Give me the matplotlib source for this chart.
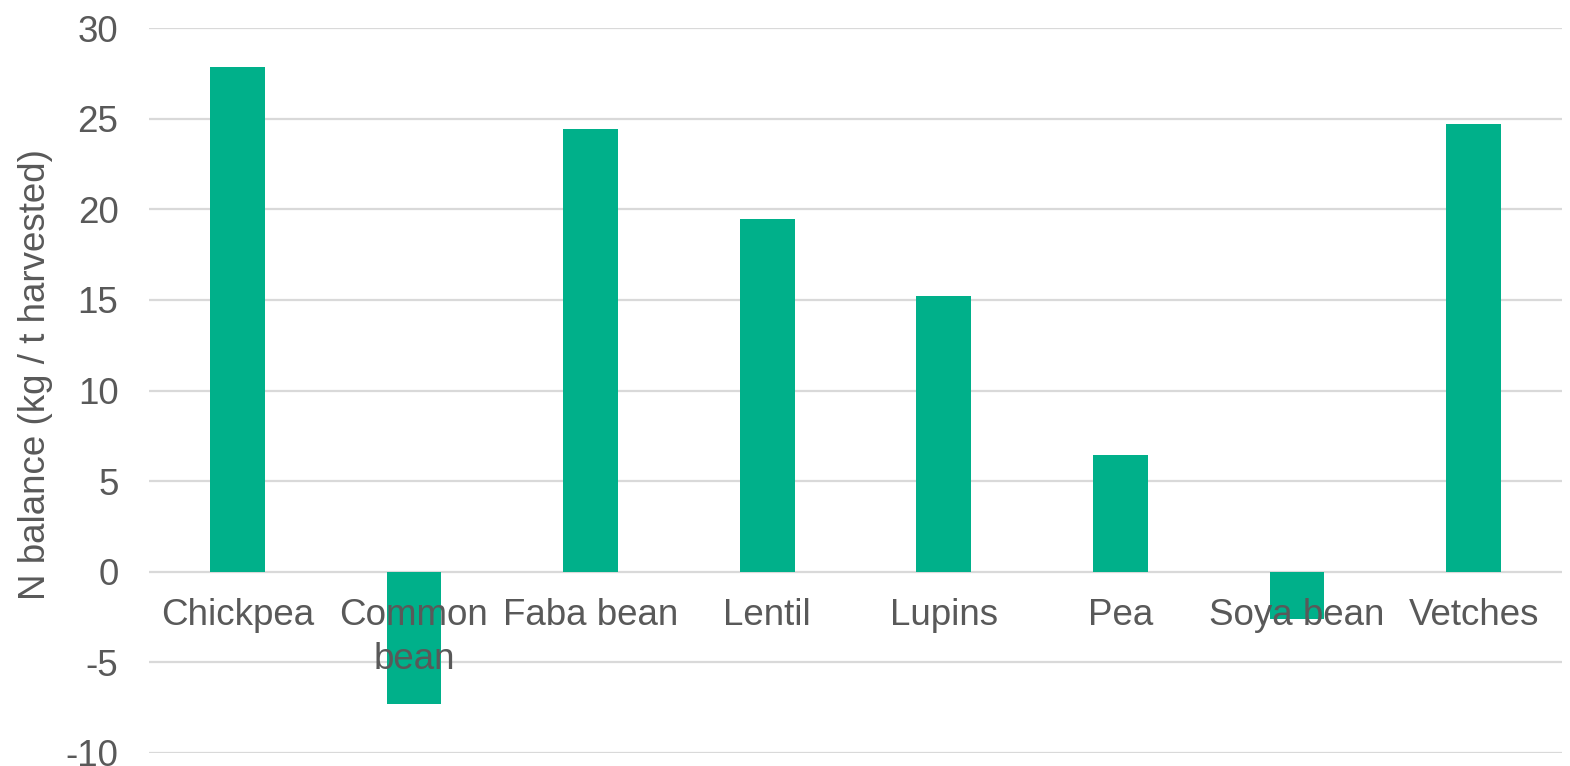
import matplotlib
matplotlib.use("Agg")
import matplotlib.pyplot as plt

plt.rcParams['font.family'] = ['Liberation Sans', 'DejaVu Sans']

crops = ["Chickpea", "Common\nbean", "Faba bean", "Lentil", "Lupins", "Pea", "Soya bean", "Vetches"]
n_balance = [27.85, -7.27, 24.45, 19.45, 15.2, 6.43, -2.6, 24.7]
y_ticks = [-10, -5, 0, 5, 10, 15, 20, 25, 30]

bar_color = "#00B08A"
text_color = "#595959"
grid_color = "#D9D9D9"

fig = plt.figure(figsize=(15.7, 7.66), dpi=100)
ax = fig.add_axes([0.0949, 0.0170, 0.9, 0.9464])

# horizontal gridlines sit behind the bars; tick labels stay on top
for v in y_ticks:
    ax.axhline(v, color=grid_color, linewidth=1.6, zorder=0.5)

x = range(len(crops))
ax.bar(x, n_balance, width=0.31, color=bar_color, zorder=1)

ax.set_xlim(-0.5, len(crops) - 0.5)
ax.set_ylim(-10, 30)
ax.set_yticks(y_ticks)
ax.set_yticklabels([str(v) for v in y_ticks])
ax.set_xticks(list(x))
ax.set_xticklabels(crops)

for side in ['left', 'right', 'top', 'bottom']:
    ax.spines[side].set_visible(False)
ax.spines['bottom'].set_position(('data', 0))

ax.tick_params(axis='y', length=0, pad=22, labelsize=26.5, labelcolor=text_color)
ax.tick_params(axis='x', length=0, pad=19, labelsize=26.5, labelcolor=text_color)
for lbl in ax.get_xticklabels():
    lbl.set_linespacing(1.32)

ax.set_ylabel("N balance (kg / t harvested)", fontsize=26.5, color=text_color)
ax.yaxis.set_label_coords(-0.068, 0.522)

fig.savefig("out.png", dpi=100, facecolor="white")
